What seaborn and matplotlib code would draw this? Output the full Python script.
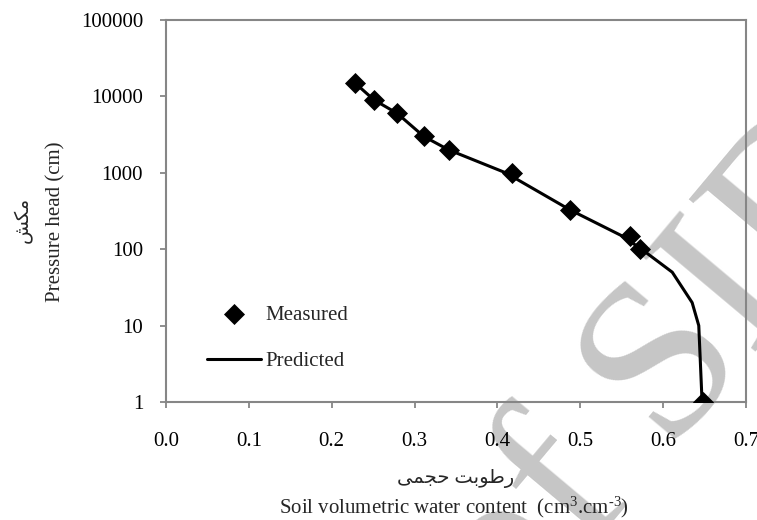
import matplotlib
matplotlib.use('Agg')
import matplotlib.pyplot as plt
import seaborn as sns
from matplotlib.ticker import FixedLocator, FixedFormatter, NullLocator

# ---- data ----
theta_measured = [0.228, 0.251, 0.279, 0.311, 0.341, 0.418, 0.487, 0.560, 0.572, 0.648]
head_measured = [15000, 9000, 6000, 3000, 2000, 1000, 330, 150, 100, 1]

theta_predicted = [0.228, 0.251, 0.279, 0.311, 0.341, 0.410, 0.487, 0.550, 0.574, 0.611, 0.635, 0.643, 0.647]
head_predicted = [15000, 9000, 6000, 3000, 2000, 1000, 330, 150, 100, 50, 20, 10, 1]

x_ticks = [0.0, 0.1, 0.2, 0.3, 0.4, 0.5, 0.6, 0.7]
x_tick_labels = ['0.0', '0.1', '0.2', '0.3', '0.4', '0.5', '0.6', '0.7']
y_ticks = [1, 10, 100, 1000, 10000, 100000]
y_tick_labels = ['1', '10', '100', '1000', '10000', '100000']

series_labels = ['Measured', 'Predicted']
# Persian labels written in visual (shaped, left-to-right) order
xlabel_fa = '\ufef0\ufee4\ufea0\ufea3 \ufe96\ufe91\ufeee\ufec3\ufead'   # رطوبت حجمی
ylabel_fa = '\ufeb6\ufedc\ufee3'                                          # مکش
xlabel_en = r'Soil volumetric water content  (cm$^{\text{3}}$.cm$^{\text{-3}}$)'
ylabel_en = 'Pressure head (cm)'
watermark = 'of SID'

# ---- style ----
sns.set_theme(style='white')
plt.rcParams['font.family'] = ['Liberation Serif', 'DejaVu Sans']
plt.rcParams['mathtext.fontset'] = 'custom'
plt.rcParams['mathtext.rm'] = 'Liberation Serif'
plt.rcParams['mathtext.it'] = 'Liberation Serif:italic'
plt.rcParams['mathtext.bf'] = 'Liberation Serif:bold'

W, H = 757, 520
fig = plt.figure(figsize=(W / 100, H / 100), dpi=100)
fig.patch.set_facecolor('white')
ax = fig.add_axes([166 / W, 1 - 402 / H, 580 / W, 382 / H])
ax.set_facecolor('white')

# watermark
ax.text(512 / W, 1 - 642 / H, watermark, transform=fig.transFigure,
        rotation=50, rotation_mode='anchor', ha='left', va='baseline',
        fontsize=163, color='#c6c6c6', family='Liberation Serif',
        zorder=0.1, clip_on=False)

sns.lineplot(x=theta_predicted, y=head_predicted, sort=False, estimator=None,
             color='black', linewidth=2.2, label=series_labels[1], ax=ax, zorder=3)
sns.scatterplot(x=theta_measured, y=head_measured, marker='D', s=115,
                color='black', edgecolor='black', linewidth=0,
                label=series_labels[0], ax=ax, zorder=4)

ax.set_yscale('log')
ax.set_xlim(0, 0.7)
ax.set_ylim(1, 100000)
ax.xaxis.set_major_locator(FixedLocator(x_ticks))
ax.xaxis.set_major_formatter(FixedFormatter(x_tick_labels))
ax.yaxis.set_major_locator(FixedLocator(y_ticks))
ax.yaxis.set_major_formatter(FixedFormatter(y_tick_labels))
ax.yaxis.set_minor_locator(NullLocator())
ax.xaxis.set_minor_locator(NullLocator())

frame_col = '#868686'
for sp in ax.spines.values():
    sp.set_visible(True)
    sp.set_color(frame_col)
    sp.set_linewidth(1.5)
ax.tick_params(axis='both', which='major', direction='out', length=4.5, width=1.3,
               color=frame_col, labelsize=15, labelcolor='black')
ax.tick_params(axis='y', pad=12, left=True)
ax.tick_params(axis='x', pad=17, bottom=True)
ax.grid(False)
ax.set_xlabel('')
ax.set_ylabel('')

# axis titles
fig.text(456 / W, 1 - 478 / H, xlabel_fa, ha='center', va='center', fontsize=14,
         family=['Liberation Serif', 'DejaVu Sans'])
fig.text(454 / W, 1 - 507 / H, xlabel_en, ha='center', va='center', fontsize=15)
fig.text(56 / W, 1 - 222 / H, ylabel_en, ha='center', va='center', fontsize=15, rotation=90)
fig.text(23 / W, 1 - 220 / H, ylabel_fa, ha='center', va='center', fontsize=14, rotation=90,
         family=['Liberation Serif', 'DejaVu Sans'])

# legend (Measured first)
handles, labels = ax.get_legend_handles_labels()
order = [labels.index(series_labels[0]), labels.index(series_labels[1])]
ax.legend([handles[i] for i in order], [labels[i] for i in order],
          loc='upper left', bbox_to_anchor=(207 / W, 1 - 305 / H),
          bbox_transform=fig.transFigure, frameon=False, fontsize=15,
          handlelength=2.6, handletextpad=0.2, labelspacing=1.3,
          borderpad=0, borderaxespad=0, markerscale=1.0)

fig.savefig('out.png', dpi=100, facecolor='white')
